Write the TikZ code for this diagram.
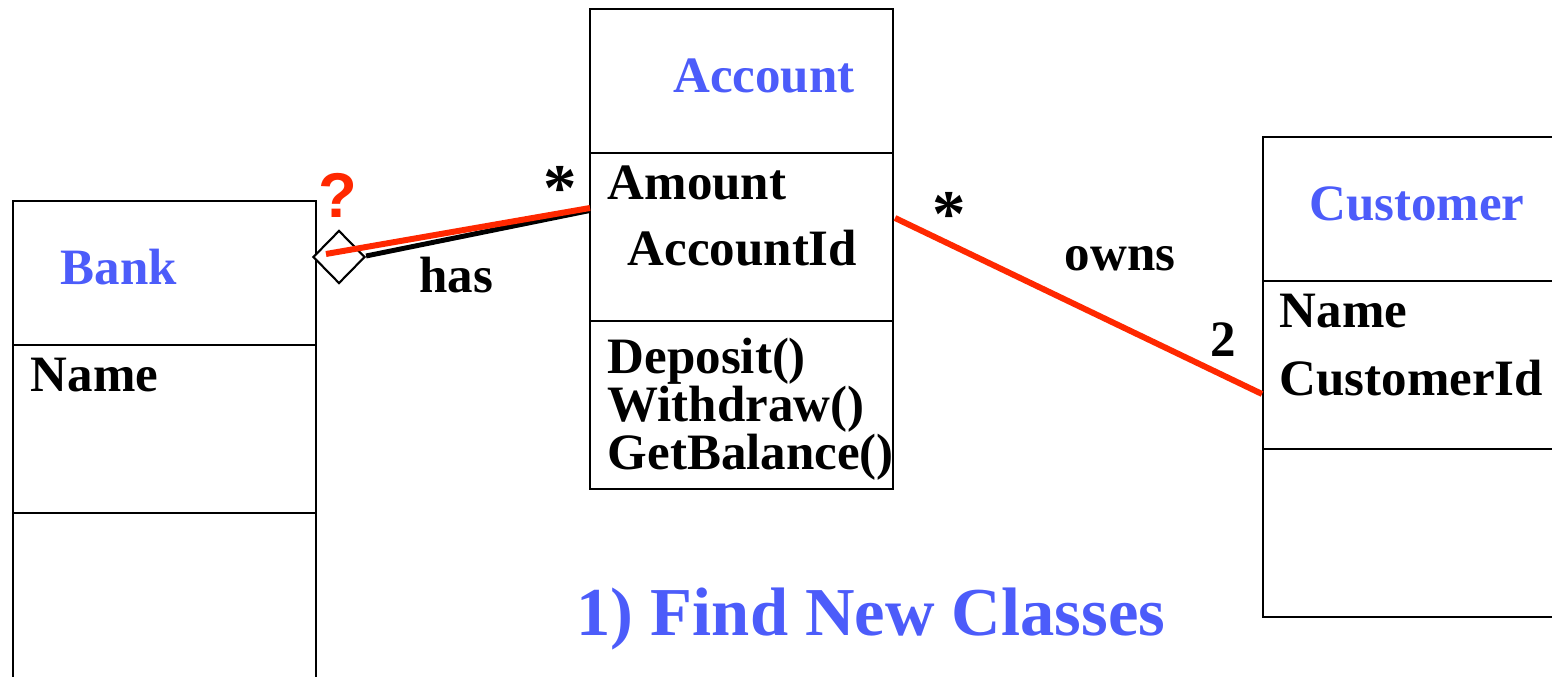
\documentclass[tikz,border=0pt]{standalone}
\usepackage{fontspec}
\setmainfont{Liberation Serif}
\newfontfamily\qfont{Liberation Sans}
\usetikzlibrary{shapes.geometric}
\definecolor{classblue}{RGB}{76,92,250}
\definecolor{linkred}{RGB}{255,40,0}
\tikzset{
  part/.style={draw,line width=0.6pt,anchor=north west,inner sep=0pt,
    minimum width=3.03cm,minimum height=#1},
  part/.default=1.68cm,
  txt/.style={anchor=base west,inner sep=0pt,font=\bfseries\fontsize{14.5}{17}\selectfont},
  title/.style={anchor=base,inner sep=0pt,text=classblue,font=\bfseries\fontsize{14.5}{17}\selectfont},
  mult/.style={inner sep=0pt,font=\bfseries\fontsize{19}{20}\selectfont},
  link/.style={draw=linkred,line width=1.7pt}
}
\begin{document}
\begin{tikzpicture}[x=0.01cm,y=-0.01cm]
  \useasboundingbox (0,0) rectangle (1552,677);
  \clip (0,0) rectangle (1552,677);
  % Bank
  \node[part=1.44cm] (bankhead) at (12,200) {};
  \node[part] (bankattr) at (12,344) {};
  \node[part] (bankops) at (12,512) {};
  \node[title] at (119,285) {Bank};
  \node[txt] at (30,392) {Name};
  % Account
  \node[part=1.44cm] (accthead) at (589,8) {};
  \node[part] (acctattr) at (589,152) {};
  \node[part] (acctops) at (589,320) {};
  \node[title] at (764,93) {Account};
  \node[txt] at (607,200) {Amount};
  \node[txt] at (627,266) {AccountId};
  \node[txt] at (607,374) {Deposit()};
  \node[txt] at (607,422) {Withdraw()};
  \node[txt] at (607,470) {GetBalance()};
  % Customer
  \node[part=1.44cm] (custhead) at (1262,136) {};
  \node[part] (custattr) at (1262,280) {};
  \node[part] (custops) at (1262,448) {};
  \node[title] at (1417,221) {Customer};
  \node[txt] at (1279,328) {Name};
  \node[txt] at (1279,396) {CustomerId};
  % has
  \node[diamond,draw,fill=white,line width=0.6pt,inner sep=0pt,
    minimum width=0.52cm,minimum height=0.53cm] (agg) at (339,257) {};
  \coordinate (hasend) at (590,208);
  \draw[line width=1.4pt] ([yshift=0.01cm]agg.east) -- ([yshift=-0.025cm]hasend);
  \draw[link] ([xshift=-0.13cm,yshift=0.03cm]agg.center) -- (hasend);
  \node[inner sep=0pt,text=linkred,font=\qfont\bfseries\fontsize{18}{20}\selectfont] at (338,195) {?};
  \node[mult] at (560,188) {*};
  \node[txt,anchor=base] at (456,293) {has};
  % owns
  \coordinate (ownsstart) at (895,218);
  \coordinate (ownsend) at (1262,394);
  \draw[link] (ownsstart) -- (ownsend);
  \node[mult] at (949,214) {*};
  \node[txt,anchor=base] at (1120,271) {owns};
  \node[txt,anchor=base] at (1223,357) {2};
  % caption
  \node[anchor=base,inner sep=0pt,text=classblue,
    font=\bfseries\fontsize{19.5}{22}\selectfont] at (871,636) {1) Find New Classes};
\end{tikzpicture}
\end{document}
